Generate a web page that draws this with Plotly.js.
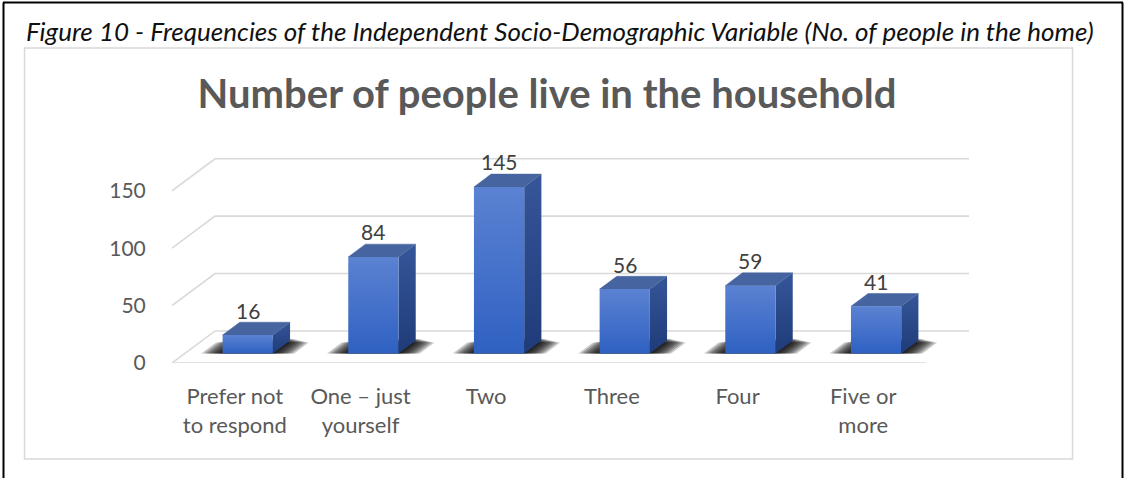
<!DOCTYPE html>
<html>
<head>
<meta charset="utf-8">
<script src="https://cdn.plot.ly/plotly-3.0.1.min.js"></script>
<style>
  html, body { margin: 0; padding: 0; background: #ffffff; }
  #chart { width: 1126px; height: 478px; }
</style>
</head>
<body>
<div id="chart"></div>
<script>
// ---------------- DATA ----------------
const categories = ["Prefer not to respond", "One \u2013 just yourself", "Two", "Three", "Four", "Five or more"];
const tickLabels = ["Prefer not<br>to respond", "One \u2013 just<br>yourself", "Two", "Three", "Four", "Five or<br>more"];
const values = [16, 84, 145, 56, 59, 41];
const yTicks = [0, 50, 100, 150];
const chartTitle = "Number of people live in the household";
const caption = "Figure 10 - Frequencies of the Independent Socio-Demographic Variable (No. of people in the home)";

// ---------------- LAYOUT CONSTANTS ----------------
const FIG_W = 1126, FIG_H = 478;
const L = 172, T = 140, PW = 797, PH = 223;           // plot area in px
const X_RANGE = [-0.5, 5.842];
const Y_RANGE = [0, 194.25];
const DX = 0.342, DY = 27.9;                          // oblique depth offset (axis units) for full depth
const BAR_HALF = 0.2, D_FRONT = 0.3, D_BACK = 0.7;   // bar geometry
const FONT = "Lato, 'Open Sans', sans-serif";
const TXT = "#595959";

function P(c, v, d) { return [c + DX * d, v + DY * d]; }
function poly(pts) {
  const xs = [], ys = [];
  pts.forEach(p => { const q = P(p[0], p[1], p[2]); xs.push(q[0]); ys.push(q[1]); });
  xs.push(xs[0]); ys.push(ys[0]);
  return { x: xs, y: ys };
}

const traces = [];

// gridlines (left wall diagonals + back wall) and floor front edge
(function () {
  const gx = [], gy = [];
  const xmin = -0.5, xmax = categories.length - 0.5;
  yTicks.forEach(v => {
    [P(xmin, v, 0), P(xmin, v, 1), P(xmax, v, 1)].forEach(p => { gx.push(p[0]); gy.push(p[1]); });
    gx.push(null); gy.push(null);
  });
  [P(xmin, 0, 0), P(xmax, 0, 0)].forEach(p => { gx.push(p[0]); gy.push(p[1]); });
  traces.push({ type: "scatter", mode: "lines", x: gx, y: gy, hoverinfo: "skip",
    line: { color: "#d9d9d9", width: 1.6 }, showlegend: false });
})();

// soft shadows on the floor (stacked translucent layers)
const SHADOW_STEPS = [0.17, 0.15, 0.13, 0.11, 0.09, 0.07, 0.05, 0.03, 0.01];
values.forEach((v, i) => {
  SHADOW_STEPS.forEach(e => {
    const back = D_BACK + 0.06 - e * 0.7;
    const s = poly([[i - BAR_HALF - e, 0, D_FRONT], [i + BAR_HALF + e, 0, D_FRONT],
                    [i + BAR_HALF + e, 0, back], [i - BAR_HALF - e, 0, back]]);
    traces.push({ type: "scatter", mode: "lines", x: s.x, y: s.y, fill: "toself",
      fillcolor: "rgba(0,0,0,0.2)", line: { width: 0 }, hoverinfo: "skip", showlegend: false });
  });
});

// 3D bars: side, top, front
values.forEach((v, i) => {
  const side = poly([[i + BAR_HALF, 0, D_FRONT], [i + BAR_HALF, 0, D_BACK], [i + BAR_HALF, v, D_BACK], [i + BAR_HALF, v, D_FRONT]]);
  traces.push({ type: "scatter", mode: "lines", x: side.x, y: side.y, fill: "toself",
    fillgradient: { type: "vertical", colorscale: [[0, "#1f3b78"], [1, "#35569a"]] },
    line: { width: 0 }, hoverinfo: "skip", showlegend: false });
  const top = poly([[i - BAR_HALF, v, D_FRONT], [i + BAR_HALF, v, D_FRONT], [i + BAR_HALF, v, D_BACK], [i - BAR_HALF, v, D_BACK]]);
  traces.push({ type: "scatter", mode: "lines", x: top.x, y: top.y, fill: "toself",
    fillcolor: "#46649f", line: { width: 0.5, color: "#46649f" }, hoverinfo: "skip", showlegend: false });
  const front = poly([[i - BAR_HALF, 0, D_FRONT], [i + BAR_HALF, 0, D_FRONT], [i + BAR_HALF, v, D_FRONT], [i - BAR_HALF, v, D_FRONT]]);
  traces.push({ type: "scatter", mode: "lines", x: front.x, y: front.y, fill: "toself",
    fillgradient: { type: "vertical", colorscale: [[0, "#2f61c2"], [1, "#5b82d2"]] },
    line: { width: 0 }, hoverinfo: "skip", showlegend: false, name: categories[i] });
});

// value labels
const annotations = values.map((v, i) => {
  const p = P(i, v, D_FRONT);
  return { x: p[0], y: p[1], xref: "x", yref: "y", text: String(v), showarrow: false,
    yshift: 25, yanchor: "middle", xanchor: "center", font: { family: FONT, size: 21, color: "#404040" } };
});

// caption
annotations.push({ xref: "paper", yref: "paper", x: (24 - L) / PW, y: (T + PH - 30.5) / PH,
  xanchor: "left", yanchor: "middle", showarrow: false, text: caption,
  font: { family: FONT, size: 26, color: "#111111", style: "italic" } });

const px2x = px => (px - L) / PW;
const px2y = py => (T + PH - py) / PH;

const shapes = [
  { type: "rect", xref: "paper", yref: "paper", x0: px2x(24.5), x1: px2x(1072.5), y0: px2y(459), y1: px2y(48),
    line: { color: "#d9d9d9", width: 1.5 }, fillcolor: "rgba(0,0,0,0)", layer: "below" },
  { type: "line", xref: "paper", yref: "paper", x0: px2x(3), x1: px2x(1123), y0: px2y(2.5), y1: px2y(2.5), line: { color: "#000", width: 2 } },
  { type: "line", xref: "paper", yref: "paper", x0: px2x(3.5), x1: px2x(3.5), y0: px2y(2.5), y1: px2y(480), line: { color: "#000", width: 2 } },
  { type: "line", xref: "paper", yref: "paper", x0: px2x(1122.5), x1: px2x(1122.5), y0: px2y(2.5), y1: px2y(480), line: { color: "#000", width: 2 } }
];

const layout = {
  width: FIG_W, height: FIG_H,
  margin: { l: L, t: T, r: FIG_W - L - PW, b: FIG_H - T - PH, pad: 0 },
  paper_bgcolor: "#ffffff", plot_bgcolor: "rgba(0,0,0,0)",
  showlegend: false,
  title: { text: "<b>" + chartTitle + "</b>", xref: "container", yref: "container",
    x: 547 / FIG_W, y: 1 - 94 / FIG_H, xanchor: "center", yanchor: "middle",
    font: { family: FONT, size: 40, color: TXT } },
  xaxis: { range: X_RANGE, tickmode: "array", tickvals: categories.map((c, i) => i), ticktext: tickLabels,
    showgrid: false, zeroline: false, showline: false, ticks: "outside", ticklen: 14, tickcolor: "rgba(0,0,0,0)",
    tickfont: { family: FONT, size: 22, color: TXT }, fixedrange: true },
  yaxis: { range: Y_RANGE, tickmode: "array", tickvals: yTicks, ticktext: yTicks.map(String),
    showgrid: false, zeroline: false, showline: false, ticks: "outside", ticklen: 21, tickcolor: "rgba(0,0,0,0)",
    tickfont: { family: FONT, size: 21, color: TXT }, fixedrange: true },
  annotations: annotations,
  shapes: shapes
};

Plotly.newPlot("chart", traces, layout, { staticPlot: true, displayModeBar: false });
</script>
</body>
</html>
